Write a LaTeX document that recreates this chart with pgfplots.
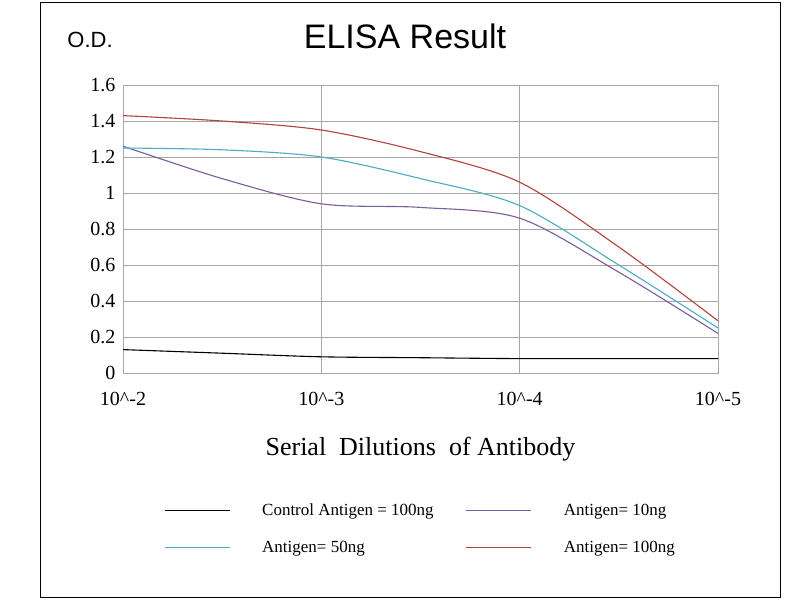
\documentclass[border=0pt]{standalone}
\usepackage{pgfplots}
\pgfplotsset{compat=1.18}
\usepackage{fontspec}
\setmainfont{Liberation Serif}
\newfontfamily\sans{Liberation Sans}
\definecolor{c10}{HTML}{7B5C9C}
\definecolor{c50}{HTML}{4BACC6}
\definecolor{c100}{HTML}{B5403C}
\begin{document}
\begin{tikzpicture}[x=1pt,y=1pt]
\fill[white] (0,0) rectangle (800,-600);
\draw[black,line width=1pt] (40,-2) rectangle (780,-597);
\node[font=\sans\fontsize{34}{36}\selectfont] at (405,-36) {ELISA Result};
\node[font=\sans\fontsize{22}{24}\selectfont] at (90,-40) {O.D.};
\begin{axis}[at={(123pt,-373pt)},anchor=south west,scale only axis,
 width=595pt,height=288pt,xmin=0,xmax=3,ymin=0,ymax=1.6,
 xtick={0,1,2,3},xticklabels={10\^{}-2,10\^{}-3,10\^{}-4,10\^{}-5},
 ytick={0,0.2,...,1.6},
 yticklabels={0,0.2,0.4,0.6,0.8,1,1.2,1.4,1.6},
 grid=major,grid style={gray!70},axis line style={gray!70},
 tick style={draw=none},
 ticklabel style={font=\fontsize{20}{22}\selectfont},
 xticklabel style={yshift=-16pt},
 yticklabel style={xshift=-4pt},
 xlabel={Serial\ \ Dilutions\ \ of Antibody},
 xlabel style={font=\fontsize{26}{28}\selectfont,yshift=-24pt},
 legend columns=2,
 legend cell align=left,
 legend style={at={(0.5,-0.44)},anchor=north,draw=none,fill=none,
   font=\fontsize{17}{19}\selectfont,column sep=30pt,row sep=20pt},
 legend image code/.code={\draw[#1,sharp plot] (0pt,0pt)--(65pt,0pt);},
 every axis plot/.append style={smooth,line width=1.1pt}]
\addplot[black] coordinates {(0,0.13)(0.5,0.11)(1,0.09)(1.5,0.085)(2,0.08)(2.5,0.08)(3,0.08)};
\addlegendentry{Control Antigen = 100ng}
\addplot[c10] coordinates {(0,1.26)(0.5,1.08)(1,0.94)(1.5,0.92)(2,0.86)(2.5,0.56)(3,0.22)};
\addlegendentry{Antigen= 10ng}
\addplot[c50] coordinates {(0,1.25)(0.5,1.24)(1,1.2)(1.5,1.08)(2,0.93)(2.5,0.6)(3,0.25)};
\addlegendentry{Antigen= 50ng}
\addplot[c100] coordinates {(0,1.43)(0.5,1.4)(1,1.35)(1.5,1.23)(2,1.06)(2.5,0.7)(3,0.29)};
\addlegendentry{Antigen= 100ng}
\end{axis}
\end{tikzpicture}
\end{document}
